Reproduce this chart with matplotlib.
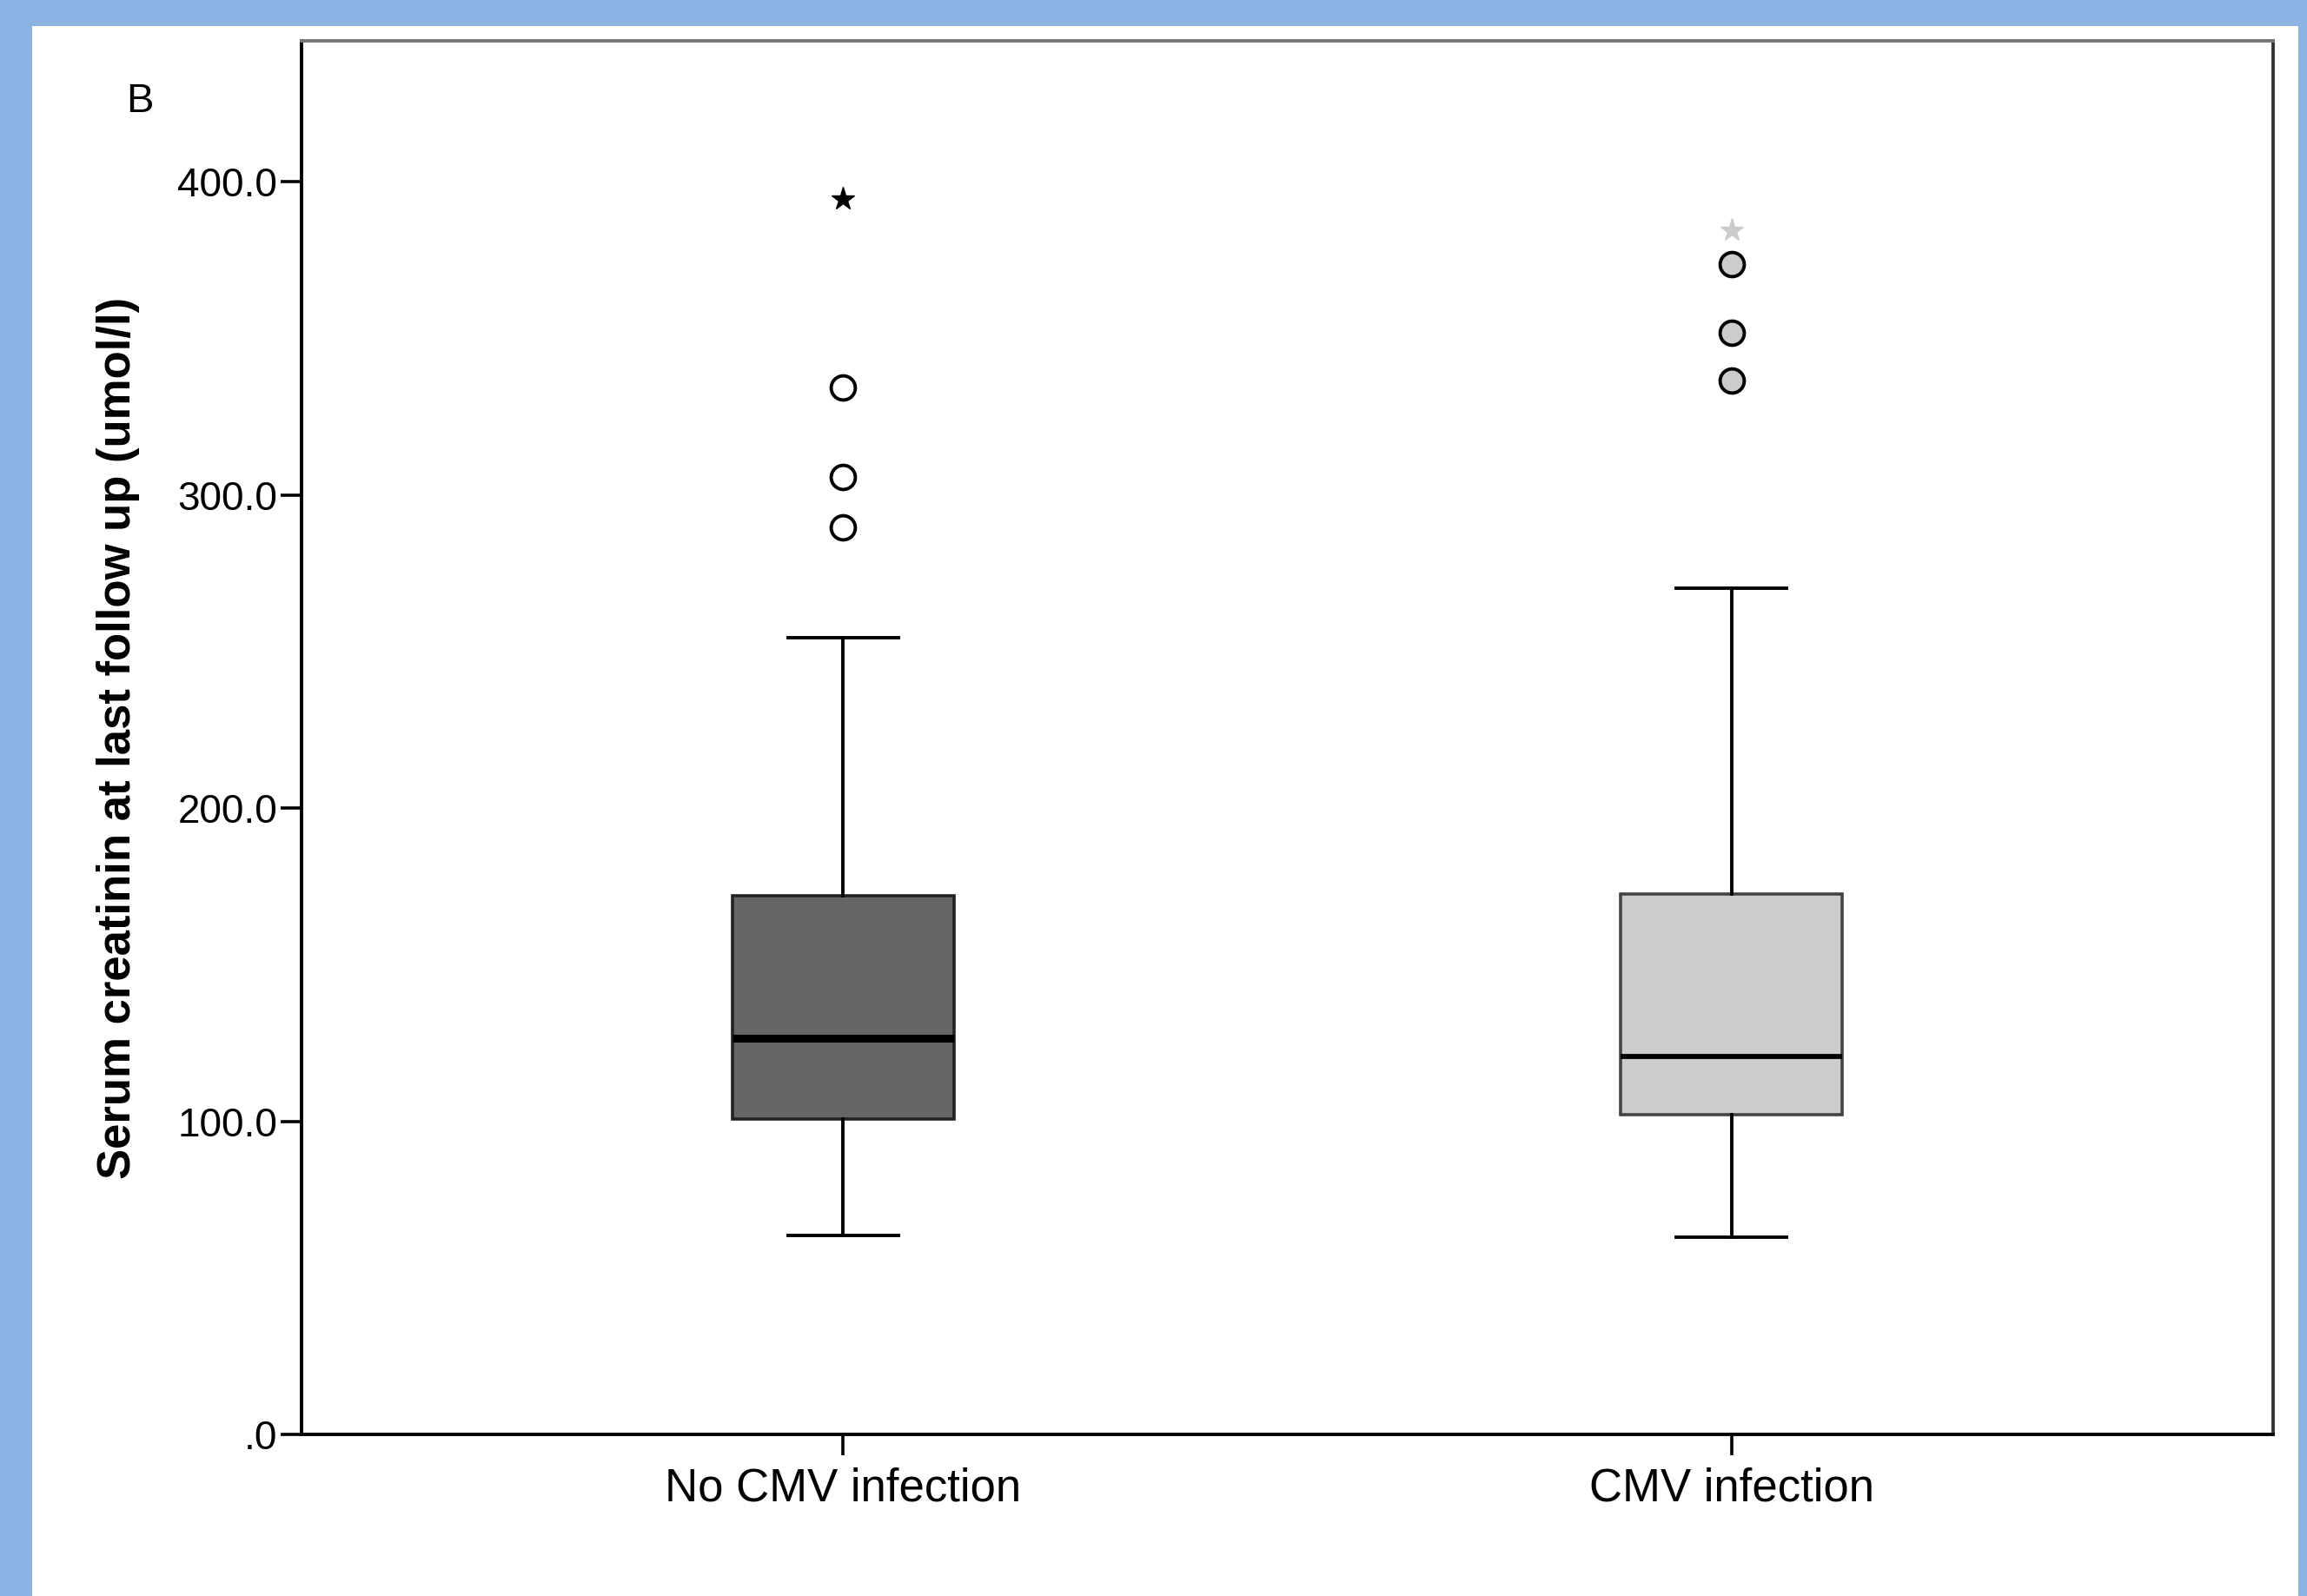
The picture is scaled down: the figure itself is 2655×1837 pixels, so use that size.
import matplotlib
matplotlib.use("Agg")
import matplotlib.pyplot as plt
from matplotlib.patches import Rectangle

plt.rcParams['font.family'] = ['Liberation Sans', 'DejaVu Sans']

# ---- data ----
categories = ["No CMV infection", "CMV infection"]
whisker_low = [63.5, 63.0]
q1 = [100.6, 102.0]
median = [126.5, 120.8]
q3 = [172.1, 172.5]
whisker_high = [254.4, 270.3]
outliers_circle = [[334.3, 305.6, 289.6], [373.8, 351.7, 336.6]]
outliers_extreme = [[394.5], [384.6]]
box_colors = ["#666666", "#cccccc"]
circle_fill = ["white", "#cccccc"]
star_colors = ["black", "#cccccc"]
yticks = [0, 100, 200, 300, 400]
ytick_labels = [".0", "100.0", "200.0", "300.0", "400.0"]
ylabel = "Serum creatinin at last follow up (umol/l)"
panel_label = "B"

W, H = 2655, 1837
fig = plt.figure(figsize=(W / 100, H / 100), dpi=100)
fig.patch.set_facecolor("#8DB3E2")
fig.patches.append(Rectangle((37 / W, 0), (2645 - 37) / W, (H - 30) / H,
                             transform=fig.transFigure, facecolor="white",
                             edgecolor="none", zorder=-10))

ax = fig.add_axes([347 / W, 1 - 1651 / H, (2616 - 347) / W, (1651 - 47) / H])
ax.set_zorder(1)
ax.set_facecolor("white")

positions = [1, 2]
stats = []
for i in range(2):
    stats.append(dict(med=median[i], q1=q1[i], q3=q3[i],
                      whislo=whisker_low[i], whishi=whisker_high[i],
                      fliers=[], label=categories[i]))

bp = ax.bxp(stats, positions=positions, widths=0.25, patch_artist=True,
            showfliers=False,
            boxprops=dict(linewidth=2.6, edgecolor="black"),
            whiskerprops=dict(linewidth=2.8, color="black"),
            capprops=dict(linewidth=2.8, color="black"),
            medianprops=dict(linewidth=6.5, color="black"),
            capwidths=0.124)
for patch, c in zip(bp["boxes"], box_colors):
    patch.set_facecolor(c)
bp["boxes"][0].set_edgecolor("#222222")
bp["boxes"][1].set_edgecolor("#444444")
bp["medians"][1].set_linewidth(4.2)

for i, pos in enumerate(positions):
    ax.plot([pos] * len(outliers_circle[i]), outliers_circle[i], linestyle="none",
            marker="o", markersize=20, markerfacecolor=circle_fill[i],
            markeredgecolor="black", markeredgewidth=2.8, zorder=5)
    ax.plot([pos] * len(outliers_extreme[i]), outliers_extreme[i], linestyle="none",
            marker="*", markersize=20, markerfacecolor=star_colors[i],
            markeredgecolor=star_colors[i], zorder=5)

ax.set_xlim(0.39, 2.61)
ax.set_ylim(0, 445)
ax.set_yticks(yticks)
ax.set_yticklabels(ytick_labels)
ax.set_xticks(positions)
ax.set_xticklabels(categories)

for s in ax.spines.values():
    s.set_linewidth(2.8)
    s.set_color("black")
ax.spines["top"].set_color("#777777")
ax.spines["right"].set_color("#333333")

ax.tick_params(axis="both", direction="out", length=17, width=2.6, colors="black")
ax.tick_params(axis="y", labelsize=33, pad=3)
ax.tick_params(axis="x", labelsize=38, pad=10)
ax.set_ylabel(ylabel, fontsize=38, fontweight="bold")
ax.yaxis.set_label_coords(-0.082, 0.5)

fig.text(161 / W, 1 - 117 / H, panel_label, fontsize=34, ha="center", va="center")

fig.savefig("out.png", dpi=100, facecolor=fig.get_facecolor())
